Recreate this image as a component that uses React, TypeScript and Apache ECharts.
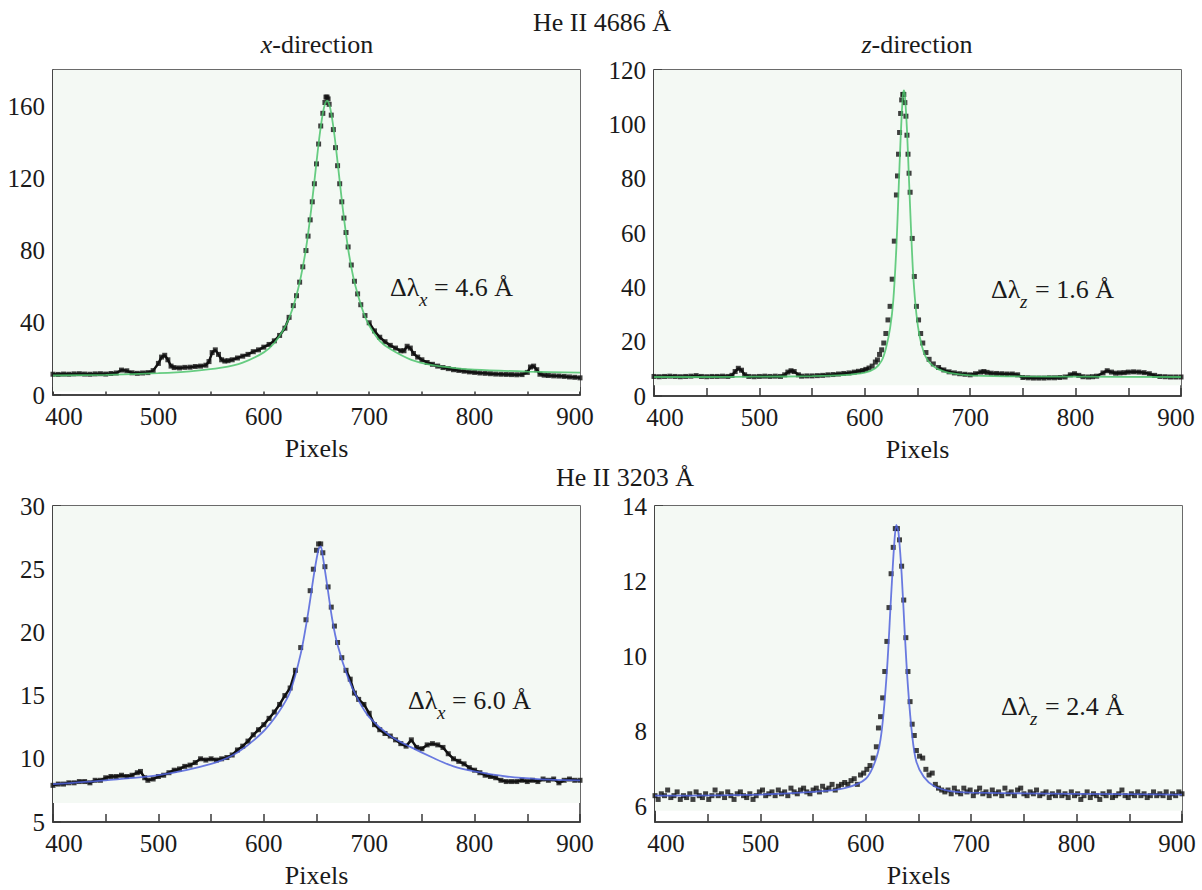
import React, { useEffect, useRef } from 'react';
import * as echarts from 'echarts';

const FONT = 'Liberation Serif, Times New Roman, serif';
const TEXT = '#1a1a1a';
const AXIS = '#3a3a3a';
const GREEN = '#4cc46c';
const BLUE = '#5063dc';
const BG = '#f4f9f4';

const xTicks = [400, 450, 500, 550, 600, 650, 700, 750, 800, 850, 900];
const xLabels = [400, 500, 600, 700, 800, 900];

const yTicksA = [0, 20, 40, 60, 80, 100, 120, 140, 160];
const yLabelsA = [0, 40, 80, 120, 160];
const yTicksB = [0, 10, 20, 30, 40, 50, 60, 70, 80, 90, 100, 110, 120];
const yLabelsB = [0, 20, 40, 60, 80, 100, 120];
const yTicksC = [5, 7.5, 10, 12.5, 15, 17.5, 20, 22.5, 25, 27.5, 30];
const yLabelsC = [5, 10, 15, 20, 25, 30];
const yTicksD = [6, 7, 8, 9, 10, 11, 12, 13, 14];
const yLabelsD = [6, 8, 10, 12, 14];

// He II 4686, x-direction: measured points
const dataA: [number, number][] = [
  [400, 11.5], [405, 11.4], [410, 11.6], [415, 11.5], [420, 11.7], [425, 11.8], [430, 11.6], [435, 11.5],
  [440, 11.7], [445, 11.8], [450, 11.6], [455, 11.9], [460, 12.2], [465, 13.8], [470, 13.4], [475, 12.3],
  [480, 12.0], [485, 12.2], [490, 12.4], [495, 13.5], [500, 17.5], [503, 21.0], [506, 22.0], [509, 19.5],
  [512, 16.0], [515, 15.2], [520, 15.0], [525, 15.3], [530, 15.4], [535, 15.8], [540, 16.0], [545, 16.5],
  [548, 18.5], [551, 23.5], [554, 25.0], [557, 22.5], [560, 19.5], [563, 18.8], [566, 19.0], [570, 19.5],
  [575, 20.5], [580, 21.5], [585, 22.5], [590, 24.0], [595, 25.0], [600, 26.5], [605, 28.0], [610, 30.0],
  [615, 33.0], [620, 37.0], [624, 43.0], [628, 49.5], [631, 55.0], [634, 62.5], [637, 71.0], [640, 80.0],
  [642, 88.0], [644, 97.0], [646, 107.0], [648, 117.0], [650, 128.0], [652, 139.0], [654, 149.0], [656, 156.0],
  [658, 162.0], [659, 165.0], [660, 165.0], [661, 164.0], [662, 161.0], [664, 155.0], [666, 147.0], [668, 137.0],
  [670, 127.0], [672, 117.0], [674, 107.0], [676, 98.0], [678, 90.0], [680, 82.0], [683, 72.0], [686, 63.0],
  [689, 56.0], [692, 50.0], [696, 44.0], [700, 40.0], [705, 35.5], [710, 32.0], [715, 29.5], [720, 27.5],
  [725, 26.0], [730, 24.5], [733, 24.5], [736, 27.0], [739, 26.0], [742, 23.0], [746, 21.0], [750, 19.5],
  [755, 18.0], [760, 17.0], [765, 16.0], [770, 15.2], [775, 14.6], [780, 14.0], [785, 13.6], [790, 13.2],
  [795, 12.8], [800, 12.5], [805, 12.2], [810, 12.0], [815, 11.8], [820, 11.6], [825, 11.5], [830, 11.4],
  [835, 11.3], [840, 11.2], [845, 11.3], [850, 12.5], [853, 15.5], [856, 16.0], [859, 14.0], [862, 11.5],
  [866, 11.0], [870, 10.8], [875, 10.6], [880, 10.5], [885, 10.3], [890, 10.0], [895, 9.8], [900, 9.5],
];
const fitA: [number, number][] = [
  [400, 10.8], [450, 11.2], [500, 12.1], [530, 13.1], [560, 15.1], [580, 17.9], [600, 23.6], [610, 28.8],
  [620, 37.5], [625, 44], [630, 53], [635, 65], [640, 81], [645, 103], [650, 129], [653, 144], [656, 156],
  [658, 161], [660, 163], [662, 161], [664, 156], [667, 144], [670, 129], [675, 103], [680, 81], [685, 65],
  [690, 54], [695, 45], [700, 38.5], [710, 30], [720, 25.5], [740, 19.5], [760, 16.5], [780, 15],
  [800, 14], [850, 13], [900, 12.4],
];

// He II 4686, z-direction
const dataB: [number, number][] = [
  [400, 7.2], [405, 7.1], [410, 7.2], [415, 7.3], [420, 7.2], [425, 7.1], [430, 7.2], [435, 7.3], [440, 7.5],
  [445, 7.2], [450, 7.1], [455, 7.2], [460, 7.2], [465, 7.3], [470, 7.2], [474, 7.6], [477, 9.0], [480, 10.2],
  [483, 9.5], [486, 7.8], [490, 7.2], [495, 7.1], [500, 7.2], [505, 7.3], [510, 7.2], [515, 7.3], [520, 7.2],
  [524, 7.8], [527, 8.8], [530, 9.3], [533, 9.0], [537, 7.8], [540, 7.3], [545, 7.4], [550, 7.4], [555, 7.5],
  [560, 7.6], [565, 7.8], [570, 7.9], [575, 8.1], [580, 8.3], [585, 8.5], [590, 8.8], [594, 9.1], [598, 9.4],
  [601, 9.8], [604, 10.3], [607, 11.0], [610, 12.5], [612, 13.3], [614, 15.3], [616, 17.0], [618, 19.5],
  [620, 23.0], [622, 28.0], [624, 33.0], [626, 43.0], [628, 57.0], [630, 74.0], [631, 81.0], [632, 89.0],
  [633, 97.0], [634, 104.0], [635, 109.0], [636, 111.0], [637, 111.0], [638, 108.0], [639, 103.0], [640, 96.0],
  [641, 89.0], [642, 82.0], [643, 75.0], [645, 58.0], [647, 44.0], [649, 33.0], [651, 28.0], [653, 23.0],
  [655, 19.5], [658, 16.0], [661, 13.5], [665, 11.8], [670, 10.5], [675, 9.6], [680, 8.9], [685, 8.5],
  [690, 8.2], [695, 8.0], [700, 7.8], [705, 8.2], [710, 8.8], [713, 9.0], [716, 8.7], [720, 8.4], [725, 8.3],
  [730, 8.2], [735, 8.1], [740, 8.1], [745, 7.8], [750, 6.8], [755, 6.7], [760, 6.6], [765, 6.6], [770, 6.6],
  [775, 6.7], [780, 6.7], [785, 6.8], [790, 7.0], [795, 7.8], [799, 8.2], [803, 7.6], [807, 7.1], [812, 7.0],
  [816, 7.1], [820, 7.3], [826, 8.5], [830, 9.3], [834, 8.8], [838, 8.4], [842, 8.5], [846, 8.6], [850, 8.8],
  [855, 8.9], [860, 8.8], [865, 8.6], [870, 8.2], [875, 7.6], [880, 7.2], [885, 7.1], [890, 7.0], [895, 7.0],
  [900, 7.0],
];
const fitB: [number, number][] = [
  [400, 7.0], [450, 7.0], [500, 7.1], [550, 7.3], [580, 7.7], [600, 8.6], [610, 10.2], [616, 13], [620, 17.5],
  [624, 25], [627, 35], [630, 55], [632, 75], [634, 95], [636, 110], [637, 112.5], [638, 111], [640, 98],
  [642, 79], [644, 60], [646, 44], [649, 30], [652, 22], [656, 16], [660, 13], [665, 11], [670, 9.8],
  [680, 8.5], [700, 7.6], [750, 7.2], [800, 7.1], [900, 7.0],
];

// He II 3203, x-direction
const dataC: [number, number][] = [
  [400, 7.9], [405, 8.0], [410, 8.0], [415, 8.1], [420, 8.1], [425, 8.2], [430, 8.2], [435, 8.1], [440, 8.3],
  [445, 8.3], [450, 8.5], [455, 8.6], [460, 8.6], [465, 8.7], [470, 8.6], [475, 8.7], [480, 8.9], [483, 9.0],
  [487, 8.5], [490, 8.3], [495, 8.4], [500, 8.6], [505, 8.7], [510, 8.9], [515, 9.1], [520, 9.2], [525, 9.4],
  [530, 9.5], [535, 9.7], [540, 10.0], [545, 9.9], [550, 10.0], [555, 9.9], [560, 10.0], [565, 10.1],
  [570, 10.3], [575, 10.7], [580, 11.0], [585, 11.4], [590, 11.9], [595, 12.3], [600, 12.7], [605, 13.2],
  [610, 13.7], [615, 14.3], [620, 15.0], [625, 15.6], [630, 17.0], [635, 18.8], [640, 21.0], [644, 23.3],
  [647, 25.0], [650, 26.5], [652, 27.0], [654, 27.0], [656, 26.3], [658, 25.2], [661, 23.6], [664, 22.0],
  [667, 20.5], [670, 19.2], [674, 18.0], [678, 17.0], [682, 16.3], [686, 15.2], [690, 14.7], [695, 14.3],
  [700, 13.6], [705, 12.7], [710, 12.3], [715, 12.0], [720, 11.8], [725, 11.5], [730, 11.2], [735, 11.0],
  [740, 11.5], [745, 10.9], [750, 10.8], [755, 11.1], [760, 11.2], [765, 11.1], [770, 10.9], [775, 10.4],
  [780, 10.0], [785, 9.8], [790, 9.6], [795, 9.3], [800, 9.1], [805, 8.9], [810, 8.7], [815, 8.6], [820, 8.5],
  [825, 8.3], [830, 8.2], [835, 8.2], [840, 8.2], [845, 8.3], [850, 8.2], [855, 8.3], [860, 8.2], [865, 8.4],
  [870, 8.3], [875, 8.4], [880, 8.1], [885, 8.3], [890, 8.4], [895, 8.3], [900, 8.3],
];
const fitC: [number, number][] = [
  [400, 8.0], [450, 8.3], [500, 8.7], [550, 9.6], [575, 10.5], [600, 12.2], [615, 13.8], [625, 15.3],
  [635, 18.3], [642, 21.5], [648, 24.8], [652, 26.6], [654, 26.8], [656, 26.0], [660, 23.8], [665, 21.0],
  [670, 19.0], [680, 16.4], [690, 14.6], [700, 13.3], [720, 11.8], [740, 10.9], [760, 10.1], [780, 9.4],
  [800, 9.0], [830, 8.6], [860, 8.4], [900, 8.3],
];

// He II 3203, z-direction
const dataD: [number, number][] = [
  [400, 6.3], [403, 6.2], [406, 6.35], [409, 6.3], [412, 6.45], [415, 6.25], [418, 6.3], [421, 6.4], [424, 6.2],
  [427, 6.3], [430, 6.25], [433, 6.35], [436, 6.2], [439, 6.4], [442, 6.3], [445, 6.25], [448, 6.35], [451, 6.2],
  [454, 6.3], [457, 6.45], [460, 6.3], [463, 6.35], [466, 6.25], [469, 6.4], [472, 6.3], [475, 6.2], [478, 6.35],
  [481, 6.4], [484, 6.3], [487, 6.25], [490, 6.35], [493, 6.2], [496, 6.3], [499, 6.4], [502, 6.45], [505, 6.3],
  [508, 6.35], [511, 6.4], [514, 6.3], [517, 6.45], [520, 6.35], [523, 6.4], [526, 6.3], [529, 6.5], [532, 6.4],
  [535, 6.35], [538, 6.45], [541, 6.5], [544, 6.4], [547, 6.35], [550, 6.45], [553, 6.5], [556, 6.4], [559, 6.55],
  [562, 6.45], [565, 6.5], [568, 6.6], [571, 6.45], [574, 6.55], [577, 6.6], [580, 6.65], [583, 6.6], [586, 6.7],
  [589, 6.75], [592, 6.6], [595, 6.85], [598, 6.9], [601, 7.0], [604, 7.1], [607, 7.3], [610, 7.6], [612, 8.1],
  [614, 8.4], [616, 8.9], [618, 9.6], [620, 10.4], [622, 11.3], [624, 12.2], [626, 12.9], [628, 13.4],
  [630, 13.4], [632, 13.1], [634, 12.4], [636, 11.5], [638, 10.5], [640, 9.6], [642, 8.8], [644, 8.2],
  [646, 7.9], [648, 7.5], [651, 7.35], [654, 7.3], [657, 7.0], [660, 6.85], [663, 6.9], [666, 6.6], [669, 6.5],
  [672, 6.45], [675, 6.4], [678, 6.45], [681, 6.35], [684, 6.5], [687, 6.4], [690, 6.35], [693, 6.5], [696, 6.4],
  [699, 6.45], [702, 6.3], [705, 6.4], [708, 6.5], [711, 6.35], [714, 6.4], [717, 6.3], [720, 6.45], [723, 6.35],
  [726, 6.4], [729, 6.3], [732, 6.5], [735, 6.35], [738, 6.4], [741, 6.3], [744, 6.45], [747, 6.5], [750, 6.35],
  [753, 6.3], [756, 6.4], [759, 6.35], [762, 6.45], [765, 6.3], [768, 6.35], [771, 6.4], [774, 6.25], [777, 6.35],
  [780, 6.3], [783, 6.4], [786, 6.3], [789, 6.35], [792, 6.25], [795, 6.4], [798, 6.3], [801, 6.35], [804, 6.2],
  [807, 6.3], [810, 6.4], [813, 6.25], [816, 6.35], [819, 6.3], [822, 6.2], [825, 6.35], [828, 6.3], [831, 6.4],
  [834, 6.25], [837, 6.3], [840, 6.35], [843, 6.45], [846, 6.3], [849, 6.25], [852, 6.35], [855, 6.3], [858, 6.4],
  [861, 6.3], [864, 6.35], [867, 6.25], [870, 6.3], [873, 6.4], [876, 6.3], [879, 6.35], [882, 6.3], [885, 6.4],
  [888, 6.25], [891, 6.35], [894, 6.3], [897, 6.4], [900, 6.35],
];
const fitD: [number, number][] = [
  [400, 6.3], [500, 6.33], [550, 6.4], [580, 6.5], [600, 6.75], [610, 7.3], [615, 8.0], [620, 9.6], [624, 11.6],
  [627, 13.0], [629, 13.5], [631, 13.3], [634, 12.2], [637, 10.6], [640, 9.2], [644, 7.9], [648, 7.2],
  [655, 6.8], [665, 6.55], [680, 6.42], [700, 6.38], [800, 6.35], [900, 6.33],
];

// core ranges (pixels) where measured points are shown as separate dots, not a joined trace
const coreA = [626, 700];
const coreB = [606, 668];
const coreC = [632, 678];

const panels = [
  { left: 53, top: 70, width: 527, height: 325, yMin: 0, yMax: 180, yTicks: yTicksA, yLabels: yLabelsA, data: dataA, fit: fitA, color: GREEN, bgMin: 2, core: coreA },
  { left: 654, top: 70, width: 527, height: 326, yMin: 0, yMax: 120, yTicks: yTicksB, yLabels: yLabelsB, data: dataB, fit: fitB, color: GREEN, bgMin: 4, core: coreB },
  { left: 53, top: 506, width: 527, height: 316, yMin: 5, yMax: 30, yTicks: yTicksC, yLabels: yLabelsC, data: dataC, fit: fitC, color: BLUE, bgMin: 6.5, core: coreC },
  { left: 655, top: 506, width: 527, height: 316, yMin: 5.6, yMax: 14, yTicks: yTicksD, yLabels: yLabelsD, data: dataD, fit: fitD, color: BLUE, bgMin: 5.9, core: null as number[] | null },
];

const txt = (x: number, y: number, text: string, extra: any = {}) => ({
  type: 'text',
  x,
  y,
  z: 100,
  style: {
    text,
    fontSize: 26,
    fontFamily: FONT,
    fill: TEXT,
    align: 'center',
    verticalAlign: 'middle',
    ...extra,
  },
});

const deltaLabel = (x: number, y: number, sub: string, rest: string) => [
  txt(x, y, 'Δλ', { align: 'left' }),
  txt(x + 29, y + 12, sub, { align: 'left', fontStyle: 'italic', fontSize: 19 }),
  txt(x + 44, y, rest, { align: 'left' }),
];

const dirTitle = (x: number, y: number, letter: string) => ({
  type: 'text',
  x,
  y,
  z: 100,
  style: {
    text: `{i|${letter}}{n|-direction}`,
    align: 'center',
    verticalAlign: 'middle',
    fill: TEXT,
    fontSize: 26,
    fontFamily: FONT,
    rich: {
      i: { fontSize: 26, fontFamily: FONT, fontStyle: 'italic', fill: TEXT },
      n: { fontSize: 26, fontFamily: FONT, fill: TEXT },
    },
  },
});

export default function App() {
  const ref = useRef<HTMLDivElement>(null);
  useEffect(() => {
    if (!ref.current) return;
    const chart = echarts.init(ref.current, undefined, { renderer: 'svg' });
    const labelStyle = { fontSize: 25, fontFamily: FONT, color: TEXT };
    const option: any = {
      animation: false,
      backgroundColor: '#ffffff',
      textStyle: { fontFamily: FONT },
      grid: panels.map((p) => ({
        left: p.left,
        top: p.top,
        width: p.width,
        height: p.height,
        show: true,
        borderColor: AXIS,
        borderWidth: 1.5,
        backgroundColor: 'transparent',
        containLabel: false,
      })),
      xAxis: panels.map((p, i) => ({
        type: 'value',
        gridIndex: i,
        min: 400,
        max: 900,
        name: 'Pixels',
        nameLocation: 'middle',
        nameGap: 40,
        nameTextStyle: { fontSize: 26, fontFamily: FONT, color: TEXT },
        axisLine: { show: true, lineStyle: { color: AXIS, width: 1.5 } },
        axisTick: { show: true, inside: true, length: 8, customValues: xTicks, lineStyle: { color: AXIS, width: 1.5 } },
        axisLabel: {
          ...labelStyle,
          margin: 9,
          customValues: xLabels,
          formatter: (v: number) => (v === 400 ? `{l|${v}}` : v === 900 ? `{r|${v}}` : `${v}`),
          rich: {
            l: { ...labelStyle, padding: [0, 0, 0, 22] },
            r: { ...labelStyle, padding: [0, 10, 0, 0] },
          },
        },
        splitLine: { show: false },
      })),
      yAxis: panels.map((p, i) => ({
        type: 'value',
        gridIndex: i,
        min: p.yMin,
        max: p.yMax,
        axisLine: { show: true, lineStyle: { color: AXIS, width: 1.5 } },
        axisTick: { show: true, inside: true, length: 8, customValues: p.yTicks, lineStyle: { color: AXIS, width: 1.5 } },
        axisLabel: { ...labelStyle, margin: 8, customValues: p.yLabels },
        splitLine: { show: false },
      })),
      series: panels.flatMap((p, i) => {
        const list: any[] = [
          {
            type: 'line',
            xAxisIndex: i,
            yAxisIndex: i,
            data: [],
            z: 1,
            silent: true,
            markArea: {
              silent: true,
              itemStyle: { color: BG },
              data: [[{ coord: [400, p.bgMin] }, { coord: [900, p.yMax] }]],
            },
          },
        ];
        if (p.core) {
          const core = p.core;
          list.push({
            type: 'line',
            xAxisIndex: i,
            yAxisIndex: i,
            data: p.data.map(([x, y]) => (x > core[0] && x < core[1] ? [x, '-'] : [x, y])),
            symbol: 'none',
            connectNulls: false,
            z: 2,
            lineStyle: { color: '#111111', width: 2.5 },
          });
        }
        list.push(
          {
            type: 'scatter',
            xAxisIndex: i,
            yAxisIndex: i,
            data: p.data,
            symbol: 'rect',
            symbolSize: 5,
            z: 3,
            itemStyle: { color: '#111111' },
          },
          {
            type: 'line',
            xAxisIndex: i,
            yAxisIndex: i,
            data: p.fit,
            symbol: 'none',
            smooth: 0.3,
            z: 5,
            lineStyle: { color: p.color, width: 1.8, opacity: 0.85 },
          },
        );
        return list;
      }),
      graphic: [
        txt(602, 22, 'He II 4686 Å'),
        dirTitle(317, 44, 'x'),
        dirTitle(917, 44, 'z'),
        txt(625, 477, 'He II 3203 Å'),
        ...deltaLabel(390, 287, 'x', '= 4.6 Å'),
        ...deltaLabel(991, 289, 'z', '= 1.6 Å'),
        ...deltaLabel(408, 700, 'x', '= 6.0 Å'),
        ...deltaLabel(1001, 706, 'z', '= 2.4 Å'),
      ],
    };
    chart.setOption(option);
    return () => chart.dispose();
  }, []);
  return (
    <div
      ref={ref}
      style={{ position: 'absolute', left: 0, top: 0, width: 1202, height: 890, background: '#fff' }}
    />
  );
}
